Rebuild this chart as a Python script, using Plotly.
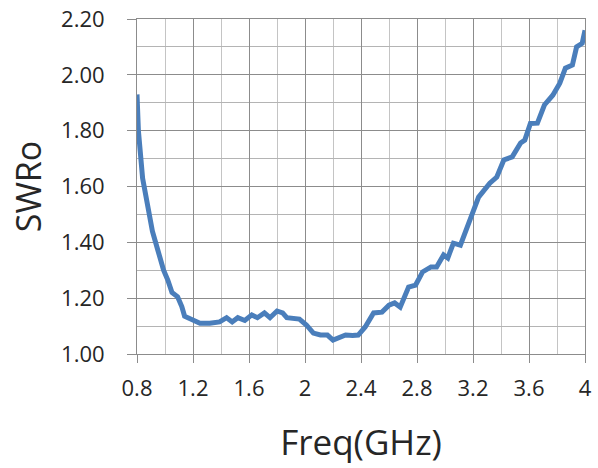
import plotly.graph_objects as go

freq_ghz = [0.80, 0.81, 0.84, 0.86, 0.88, 0.91, 0.95, 0.99, 1.02, 1.05, 1.09, 1.12, 1.14,
            1.19, 1.25, 1.32, 1.39, 1.44, 1.48, 1.52, 1.57, 1.62, 1.66, 1.71, 1.75, 1.80,
            1.84, 1.87, 1.91, 1.96, 2.01, 2.06, 2.11, 2.16, 2.20, 2.25, 2.29, 2.34, 2.38,
            2.43, 2.49, 2.55, 2.60, 2.64, 2.68, 2.74, 2.79, 2.84, 2.90, 2.94, 2.99, 3.02,
            3.06, 3.11, 3.16, 3.20, 3.24, 3.27, 3.32, 3.37, 3.42, 3.48, 3.54, 3.57, 3.61,
            3.66, 3.71, 3.77, 3.82, 3.86, 3.91, 3.94, 3.98, 4.00]
swro = [1.93, 1.80, 1.63, 1.57, 1.53, 1.44, 1.37, 1.30, 1.265, 1.22, 1.205, 1.17, 1.135,
        1.122, 1.11, 1.11, 1.115, 1.13, 1.115, 1.13, 1.12, 1.14, 1.13, 1.147, 1.13, 1.154,
        1.147, 1.13, 1.128, 1.125, 1.104, 1.075, 1.068, 1.068, 1.05, 1.061, 1.068, 1.066, 1.068,
        1.097, 1.147, 1.15, 1.175, 1.183, 1.168, 1.24, 1.247, 1.294, 1.312, 1.312, 1.355, 1.344,
        1.397, 1.39, 1.462, 1.509, 1.562, 1.58, 1.612, 1.634, 1.695, 1.706, 1.756, 1.766, 1.826,
        1.827, 1.892, 1.927, 1.97, 2.024, 2.035, 2.10, 2.113, 2.16]

x_tickvals = [0.8, 1.2, 1.6, 2.0, 2.4, 2.8, 3.2, 3.6, 4.0]
x_ticktext = ["0.8", "1.2", "1.6", "2", "2.4", "2.8", "3.2", "3.6", "4"]
y_tickvals = [1.0, 1.2, 1.4, 1.6, 1.8, 2.0, 2.2]
y_ticktext = ["1.00", "1.20", "1.40", "1.60", "1.80", "2.00", "2.20"]

FONT = "Open Sans"
fig = go.Figure()
fig.add_trace(go.Scatter(x=freq_ghz, y=swro, mode="lines",
                         line=dict(color="#4A7EBB", width=5), showlegend=False,
                         hoverinfo="skip"))

fig.update_layout(
    width=598, height=468,
    margin=dict(l=137, r=13, t=19, b=114, autoexpand=False),
    paper_bgcolor="white", plot_bgcolor="white",
    font=dict(family=FONT, color="#404040"),
    xaxis=dict(range=[0.8, 4.0], tickvals=x_tickvals, ticktext=x_ticktext,
               automargin=False, ticklabeloverflow="allow",
               showgrid=True, gridcolor="#8c8c8c", gridwidth=1,
               minor=dict(dtick=0.2, tick0=0.8, showgrid=True, gridcolor="#c4c4c4", gridwidth=1),
               showline=True, linecolor="#8c8c8c", linewidth=1, mirror=True,
               ticks="outside", ticklen=8, tickcolor="#8c8c8c",
               ticklabelstandoff=7,
               tickfont=dict(size=22, family=FONT, color="#262626"),
               title=dict(text="Freq(GHz)", font=dict(size=35, family=FONT, color="#262626"), standoff=29),
               zeroline=False),
    yaxis=dict(range=[1.0, 2.2], tickvals=y_tickvals, ticktext=y_ticktext,
               automargin=False, ticklabeloverflow="allow",
               showgrid=True, gridcolor="#8c8c8c", gridwidth=1,
               minor=dict(dtick=0.1, tick0=1.0, showgrid=True, gridcolor="#b4b4b4", gridwidth=1),
               showline=True, linecolor="#8c8c8c", linewidth=1, mirror=True,
               ticks="outside", ticklen=9, tickcolor="#8c8c8c",
               ticklabelstandoff=18,
               tickfont=dict(size=22, family=FONT, color="#262626"),
               title=dict(text="SWRo", font=dict(size=34, family=FONT, color="#262626"), standoff=9),
               zeroline=False),
)

fig.write_html("out.html", config={"displayModeBar": False},
               post_script="document.body.style.margin='0';")
